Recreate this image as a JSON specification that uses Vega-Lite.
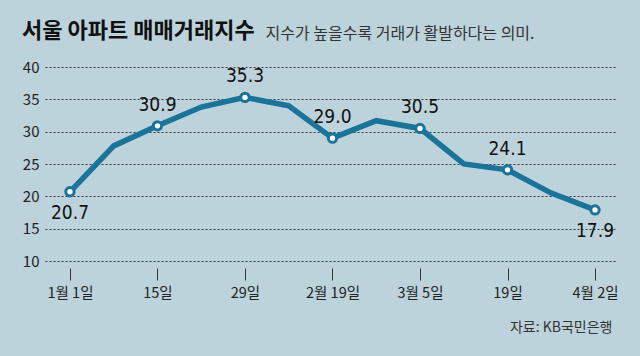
{
  "$schema": "https://vega.github.io/schema/vega-lite/v6.json",
  "autosize": {"type": "none"},
  "width": 570,
  "height": 194,
  "padding": {"left": 45, "top": 67, "right": 25, "bottom": 95},
  "background": "#bdd3dc",
  "title": {
    "text": "서울 아파트 매매거래지수",
    "anchor": "start",
    "frame": "group",
    "dx": -23,
    "offset": -35,
    "baseline": "alphabetic",
    "font": "Noto Sans CJK KR",
    "fontSize": 22,
    "fontWeight": "bold",
    "color": "#111111"
  },
  "config": {
    "view": {"stroke": null},
    "font": "Noto Sans CJK KR"
  },
  "data": {
    "values": [
      {"i": 0, "date": "1월 1일", "value": 20.7},
      {"i": 1, "date": "1월 8일", "value": 27.8},
      {"i": 2, "date": "1월 15일", "value": 30.9},
      {"i": 3, "date": "1월 22일", "value": 33.8},
      {"i": 4, "date": "1월 29일", "value": 35.3},
      {"i": 5, "date": "2월 5일", "value": 34.0},
      {"i": 6, "date": "2월 19일", "value": 29.0},
      {"i": 7, "date": "2월 26일", "value": 31.7},
      {"i": 8, "date": "3월 5일", "value": 30.5},
      {"i": 9, "date": "3월 12일", "value": 25.0},
      {"i": 10, "date": "3월 19일", "value": 24.1},
      {"i": 11, "date": "3월 26일", "value": 20.5},
      {"i": 12, "date": "4월 2일", "value": 17.9}
    ]
  },
  "encoding": {
    "x": {
      "field": "i",
      "type": "quantitative",
      "scale": {"domain": [-0.571, 12.457], "nice": false, "zero": false},
      "axis": {
        "values": [0, 2, 4, 6, 8, 10, 12],
        "labelExpr": "['1월 1일','','15일','','29일','','2월 19일','','3월 5일','','19일','','4월 2일'][datum.value]",
        "grid": false,
        "domain": false,
        "ticks": true,
        "tickSize": 12,
        "tickColor": "#333333",
        "tickWidth": 1,
        "offset": 7,
        "labelPadding": 6,
        "labelFontSize": 14.5,
        "labelColor": "#222222",
        "labelFont": "Noto Sans CJK KR",
        "title": "자료: KB국민은행",
        "titleX": 567,
        "titleY": 63,
        "titleAlign": "right",
        "titleAnchor": null,
        "titleBaseline": "alphabetic",
        "titleFontSize": 14,
        "titleFontWeight": "normal",
        "titleColor": "#333333",
        "titleFont": "Noto Sans CJK KR"
      }
    },
    "y": {
      "field": "value",
      "type": "quantitative",
      "scale": {"domain": [10, 40], "nice": false, "zero": false},
      "axis": {
        "values": [10, 15, 20, 25, 30, 35, 40],
        "grid": true,
        "gridDash": [2, 2],
        "gridColor": "#3a3a3a",
        "gridWidth": 1,
        "domain": false,
        "ticks": false,
        "labelPadding": 6,
        "labelFontSize": 15,
        "labelColor": "#222222",
        "labelFont": "Noto Sans CJK KR",
        "title": "지수가 높을수록 거래가 활발하다는 의미.",
        "titleAngle": 0,
        "titleX": 220,
        "titleY": -29,
        "titleAlign": "left",
        "titleAnchor": null,
        "titleBaseline": "alphabetic",
        "titleFontSize": 16,
        "titleFontWeight": "normal",
        "titleColor": "#333333",
        "titleFont": "Noto Sans CJK KR"
      }
    }
  },
  "layer": [
    {
      "mark": {"type": "line", "color": "#1a7398", "strokeWidth": 5.5, "strokeJoin": "miter"}
    },
    {
      "transform": [{"filter": "datum.i % 2 == 0"}],
      "mark": {"type": "point", "filled": true, "fill": "#ffffff", "stroke": "#1a7398", "strokeWidth": 3, "size": 70, "opacity": 1}
    },
    {
      "transform": [{"filter": "datum.i % 2 == 0 && datum.i != 0 && datum.i != 12"}],
      "mark": {"type": "text", "dy": -21, "fontSize": 19, "color": "#111111", "font": "DejaVu Sans Condensed, Noto Sans CJK KR"},
      "encoding": {"text": {"field": "value", "type": "quantitative", "format": ".1f"}}
    },
    {
      "transform": [{"filter": "datum.i == 0 || datum.i == 12"}],
      "mark": {"type": "text", "dy": 21, "fontSize": 19, "color": "#111111", "font": "DejaVu Sans Condensed, Noto Sans CJK KR"},
      "encoding": {"text": {"field": "value", "type": "quantitative", "format": ".1f"}}
    }
  ]
}
